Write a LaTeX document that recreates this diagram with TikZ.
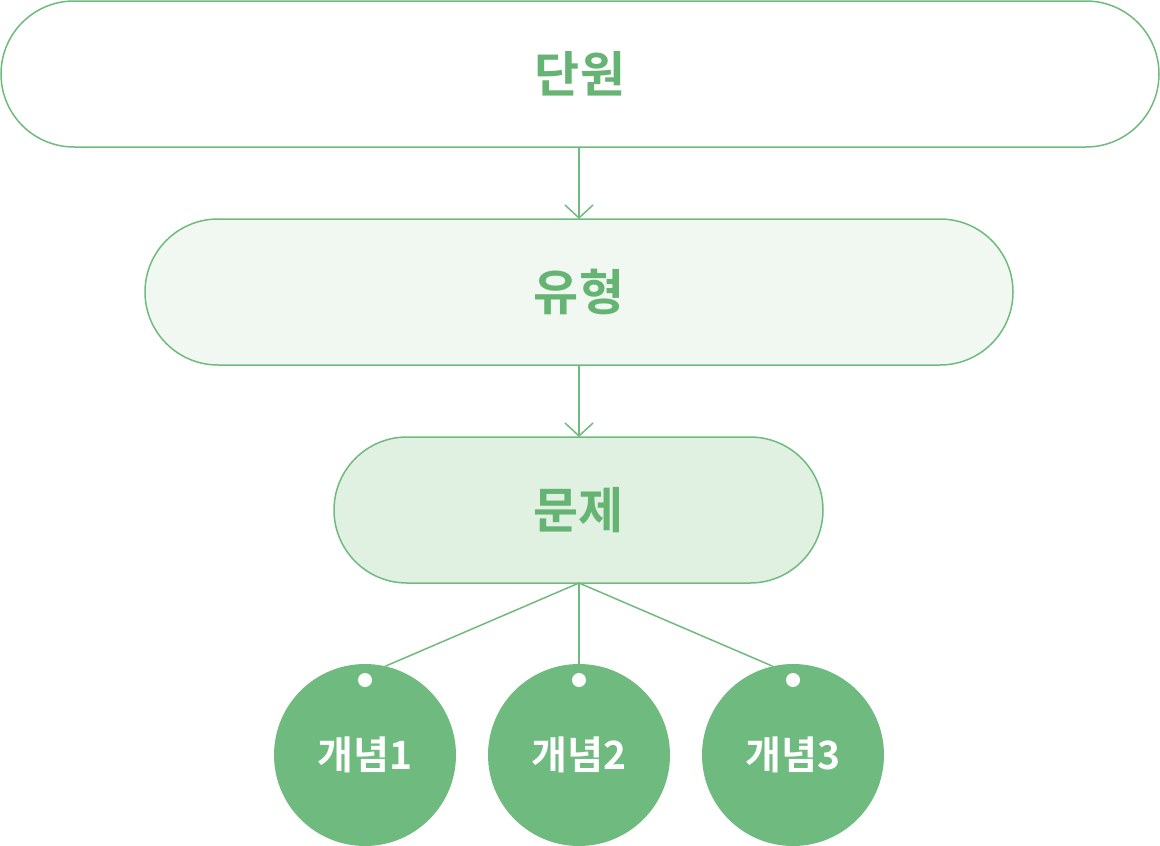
\documentclass[tikz,border=0pt]{standalone}
\usepackage{fontspec}
\newfontfamily\kr{Noto Sans CJK KR Bold}
\usetikzlibrary{arrows.meta}
\definecolor{gline}{HTML}{6FBB7F}
\definecolor{gtext}{HTML}{65B474}
\definecolor{fillA}{HTML}{F1F8F1}
\definecolor{fillB}{HTML}{E0F0E1}
\begin{document}
\begin{tikzpicture}[x=1pt,y=-1pt,
  pill/.style={draw=gline,line width=1.5pt,rounded corners=73pt,minimum height=146pt,inner sep=0pt,font=\kr\fontsize{49}{58}\selectfont,text=gtext},
  concept/.style={circle,fill=gline,minimum size=182pt,inner sep=0pt},
  label/.style={font=\kr\fontsize{39}{46}\selectfont,text=white},
  hole/.style={circle,fill=white,minimum size=14pt,inner sep=0pt},
  link/.style={draw=gline,line width=1.5pt},
  arr/.style={link,-{Straight Barb[length=13pt,width=28pt,line width=1.5pt]}}]
\useasboundingbox (0,0) rectangle (1160,846);
\node[pill,fill=white,minimum width=1158pt] (unit) at (580,74) {단원};
\node[pill,fill=fillA,minimum width=868pt] (type) at (579,292) {유형};
\node[pill,fill=fillB,minimum width=489pt] (prob) at (578.5,510) {문제};
\node[concept] (c1) at (365,755) {};
\node[concept] (c2) at (579,755) {};
\node[concept] (c3) at (793,755) {};
\node[label] (t1) at (365,755) {개념1};
\node[label] (t2) at (579,755) {개념2};
\node[label] (t3) at (793,755) {개념3};
\node[hole] (h1) at (365,680) {};
\node[hole] (h2) at (579,680) {};
\node[hole] (h3) at (793,680) {};
\coordinate (u) at (579,147);
\coordinate (tt) at (579,219);
\coordinate (tb) at (579,365);
\coordinate (pt) at (579,437);
\coordinate (pb) at (579,583);
\draw[arr] (u) -- (tt);
\draw[arr] (tb) -- (pt);
\draw[link] (pb) -- (c1.77);
\draw[link] (pb) -- (c2.north);
\draw[link] (pb) -- (c3.103);
\end{tikzpicture}
\end{document}
